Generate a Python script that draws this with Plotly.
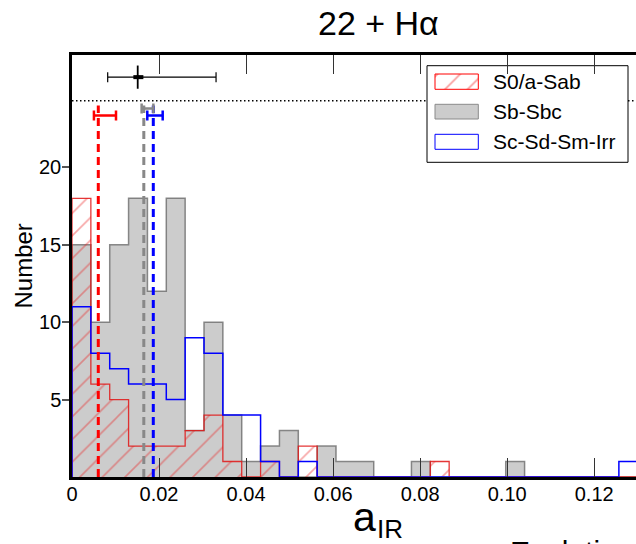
import numpy as np
import plotly.graph_objects as go

# ---------------- data ----------------
bin_lo, bin_hi, n_bins = 0.0, 0.13, 30
edges = np.linspace(bin_lo, bin_hi, n_bins + 1)

group_names = ["S0/a-Sab", "Sb-Sbc", "Sc-Sd-Sm-Irr"]
counts_s0a = [18, 6, 5, 2, 2, 2, 3, 4, 1, 0, 1, 0, 2, 0, 0, 0, 0, 0, 0, 1, 0, 0, 0, 0, 0, 0, 0, 0, 0, 0]
counts_sb = [15, 10, 15, 18, 12, 18, 3, 10, 4, 1, 2, 3, 0, 2, 1, 1, 0, 0, 1, 0, 0, 0, 0, 1, 0, 0, 0, 0, 0, 0]
counts_sc = [11, 8, 7, 6, 6, 5, 9, 8, 4, 4, 1, 0, 1, 0, 0, 0, 0, 0, 0, 0, 0, 0, 0, 0, 0, 0, 0, 0, 0, 1]

# group mean markers (dashed lines) with asymmetric errors
mean_x = [0.00604, 0.0165, 0.01868]
mean_err_minus = [0.0010, 0.0005, 0.00138]
mean_err_plus = [0.00407, 0.0022, 0.00216]
mean_err_y = [23.35, 23.8, 23.35]
mean_line_top = 24.0

# overall point at top
all_x, all_y = 0.0151, 25.83
all_x_minus, all_x_plus = 0.0069, 0.018
all_y_err = 0.75
all_x_minus_in, all_x_plus_in = 0.0010, 0.0013

dotted_y = 24.3

x_tickvals = [0, 0.02, 0.04, 0.06, 0.08, 0.10, 0.12]
x_ticktext = ["0", "0.02", "0.04", "0.06", "0.08", "0.10", "0.12"]
y_tickvals = [5, 10, 15, 20]
y_ticktext = ["5", "10", "15", "20"]
x_range = [0, 0.1296]
y_range = [0, 27.26]

FONT = "Liberation Sans, Arial, Helvetica, sans-serif"
colors = ["red", "#888888", "blue"]

# plot-area geometry in pixels (for placing text / legend)
L, R, T, B = 72, 636, 55, 477


def px_to_paper(px, py):
    return (px - L) / (R - L), (B - py) / (B - T)


def step_xy(counts):
    xs = [edges[0]] + list(edges) + [edges[-1]]
    ys = [0] + list(counts) + [counts[-1], 0]
    return xs, ys


fig = go.Figure()

# grey filled histogram
xs, ys = step_xy(counts_sb)
fig.add_trace(go.Scatter(x=xs, y=ys, mode="lines", line=dict(shape="hv", color="rgba(100,100,100,0.75)", width=1.5),
                         fill="tozeroy", fillcolor="#cccccc", showlegend=False, hoverinfo="skip"))
# red hatched histogram
xs, ys = step_xy(counts_s0a)
fig.add_trace(go.Scatter(x=xs, y=ys, mode="lines", line=dict(shape="hv", color="rgba(225,20,20,0.85)", width=1.3),
                         fill="tozeroy", fillcolor="rgba(0,0,0,0)",
                         fillpattern=dict(shape="/", fgcolor="rgba(235,30,30,0.8)", bgcolor="rgba(0,0,0,0)",
                                          size=16, solidity=0.1),
                         showlegend=False, hoverinfo="skip"))
# blue step histogram
xs, ys = step_xy(counts_sc)
fig.add_trace(go.Scatter(x=xs, y=ys, mode="lines", line=dict(shape="hv", color="blue", width=1.5),
                         showlegend=False, hoverinfo="skip"))

# dotted horizontal line
fig.add_trace(go.Scatter(x=[x_range[0], x_range[1]], y=[dotted_y, dotted_y], mode="lines",
                         line=dict(color="black", width=1.5, dash="1.5px,2.5px"), showlegend=False, hoverinfo="skip"))

# dashed mean lines + error bars
for i in range(3):
    fig.add_trace(go.Scatter(x=[mean_x[i], mean_x[i]], y=[0, mean_line_top], mode="lines",
                             line=dict(color=colors[i], width=3, dash="8px,5px"), showlegend=False, hoverinfo="skip"))
for i in range(3):
    fig.add_trace(go.Scatter(x=[mean_x[i]], y=[mean_err_y[i]], mode="markers",
                             marker=dict(size=1, color=colors[i]),
                             error_x=dict(type="data", symmetric=False, array=[mean_err_plus[i]],
                                          arrayminus=[mean_err_minus[i]], color=colors[i], thickness=2.5, width=5),
                             showlegend=False, hoverinfo="skip"))

# overall point
fig.add_trace(go.Scatter(x=[all_x], y=[all_y], mode="markers", marker=dict(size=4, color="black"),
                         error_x=dict(type="data", symmetric=False, array=[all_x_plus], arrayminus=[all_x_minus],
                                      color="black", thickness=1.2, width=5),
                         error_y=dict(type="data", array=[all_y_err], color="black", thickness=1.8, width=0),
                         showlegend=False, hoverinfo="skip"))
fig.add_trace(go.Scatter(x=[all_x], y=[all_y], mode="markers", marker=dict(size=1, color="black"),
                         error_x=dict(type="data", symmetric=False, array=[all_x_plus_in], arrayminus=[all_x_minus_in],
                                      color="black", thickness=4, width=0),
                         showlegend=False, hoverinfo="skip"))

# ---------------- manual legend (pixel-coordinate overlay axes) ----------------
LX0, LX1, LY0, LY1 = 427, 628, 65.7, 162.3
fig.add_trace(go.Scatter(x=[LX0, LX1, LX1, LX0, LX0], y=[LY0, LY0, LY1, LY1, LY0], xaxis="x2", yaxis="y2",
                         mode="lines", line=dict(color="black", width=1), fill="toself", fillcolor="white",
                         showlegend=False, hoverinfo="skip"))
px0, px1 = 435, 478.3
patch_y = [(74, 89.3), (104.3, 119), (134.3, 149.3)]
text_y = [81.7, 111.7, 141.7]
a, b = patch_y[0]
fig.add_trace(go.Scatter(x=[px0, px1, px1, px0, px0], y=[a, a, b, b, a], xaxis="x2", yaxis="y2", mode="lines",
                         line=dict(color="red", width=1), fill="toself", fillcolor="rgba(0,0,0,0)",
                         fillpattern=dict(shape="/", fgcolor="rgba(240,30,30,0.9)", bgcolor="rgba(0,0,0,0)",
                                          size=16, solidity=0.1),
                         showlegend=False, hoverinfo="skip"))
a, b = patch_y[1]
fig.add_trace(go.Scatter(x=[px0, px1, px1, px0, px0], y=[a, a, b, b, a], xaxis="x2", yaxis="y2", mode="lines",
                         line=dict(color="#8a8a8a", width=1), fill="toself", fillcolor="#cccccc",
                         showlegend=False, hoverinfo="skip"))
a, b = patch_y[2]
fig.add_trace(go.Scatter(x=[px0, px1, px1, px0, px0], y=[a, a, b, b, a], xaxis="x2", yaxis="y2", mode="lines",
                         line=dict(color="blue", width=1), fill="toself", fillcolor="white",
                         showlegend=False, hoverinfo="skip"))

annotations = []


def add_text(px, py, text, size, xanchor="left", angle=0):
    xp, yp = px_to_paper(px, py)
    annotations.append(dict(x=xp, y=yp, xref="paper", yref="paper", text=text, showarrow=False, xanchor=xanchor,
                            yanchor="middle", textangle=angle, font=dict(family=FONT, size=size, color="black")))


for name, ty in zip(group_names, text_y):
    add_text(491, ty, name, 21)
add_text(378, 23, "22 + Hα", 34, xanchor="center")
add_text(351, 517, "a", 41)
add_text(374.5, 529, "IR", 26)
add_text(23, 266.5, "Number", 24, xanchor="center", angle=-90)
add_text(508, 551, "Evolution", 30)

fig.update_layout(
    width=636, height=544,
    margin=dict(l=L, r=636 - R, t=T, b=544 - B, pad=0),
    paper_bgcolor="white", plot_bgcolor="white",
    showlegend=False,
    font=dict(family=FONT, size=20, color="black"),
    xaxis=dict(range=x_range, tickvals=x_tickvals, ticktext=x_ticktext, ticks="inside", ticklen=19, tickwidth=1,
               tickcolor="#333333", showline=True, linewidth=2.5, linecolor="black", mirror="ticks",
               showgrid=False, zeroline=False, ticklabelstandoff=-3,
               tickfont=dict(family=FONT, size=20, color="black")),
    yaxis=dict(range=y_range, tickvals=y_tickvals, ticktext=y_ticktext, ticks="outside", ticklen=7, tickwidth=1.5,
               tickcolor="#555555", showline=True, linewidth=2.5, linecolor="black", mirror=False,
               showgrid=False, zeroline=False, ticklabelstandoff=-3,
               tickfont=dict(family=FONT, size=20, color="black")),
    yaxis3=dict(range=y_range, overlaying="y", anchor="x", side="left", tickvals=y_tickvals, ticks="inside",
                ticklen=9, tickwidth=1.5, tickcolor="#555555", showticklabels=False, showline=False,
                showgrid=False, zeroline=False),
    yaxis4=dict(range=y_range, overlaying="y", anchor="x", side="right", tickvals=y_tickvals, ticks="inside",
                ticklen=8, tickwidth=1.5, tickcolor="#666666", showticklabels=False, showline=False,
                showgrid=False, zeroline=False),
    xaxis2=dict(range=[L, R], overlaying="x", anchor="y2", visible=False, fixedrange=True),
    yaxis2=dict(range=[B, T], overlaying="y", anchor="x2", visible=False, fixedrange=True),
    annotations=annotations,
)

fig.write_html("out.html")
